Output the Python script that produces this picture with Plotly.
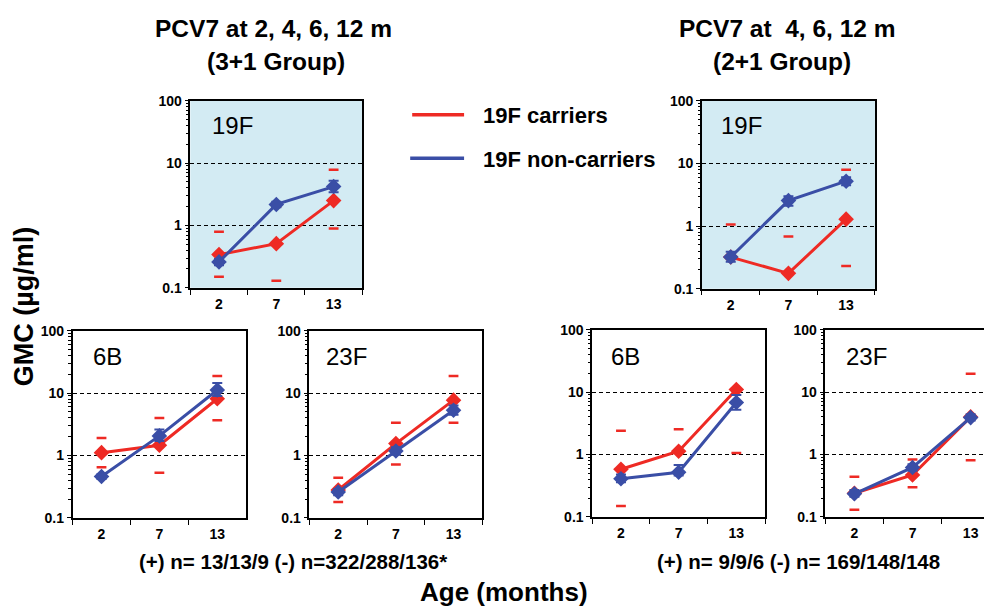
import math
import plotly.graph_objects as go

W, H = 992, 616
OFF = 8  # the page body margin shifts the figure by 8px; compensate
FONT = "Liberation Sans, Arial, sans-serif"
RED = "#ee2a24"
BLUE = "#3a4ea6"
BG = "#d3ebf3"

ages = ["2", "7", "13"]

# --- 3+1 group, 19F ---
f19_31_car = [0.34, 0.51, 2.5]
f19_31_car_hi = [0.79, 2.0, 7.8]
f19_31_car_lo = [0.15, 0.13, 0.89]
f19_31_non = [0.26, 2.17, 4.2]
f19_31_non_hi = [0.29, 2.4, 5.2]
f19_31_non_lo = [0.23, 1.95, 3.4]

# --- 2+1 group, 19F ---
f19_21_car = [0.32, 0.176, 1.29]
f19_21_car_hi = [1.06, 0.68, 7.9]
f19_21_car_lo = [None, None, 0.23]
f19_21_non = [0.32, 2.55, 5.2]
f19_21_non_hi = [0.39, 3.0, 6.0]
f19_21_non_lo = [0.27, 2.1, 4.5]

# --- 3+1 group, 6B ---
b6_31_car = [1.11, 1.46, 8.1]
b6_31_car_hi = [1.9, 4.0, 18.8]
b6_31_car_lo = [0.65, 0.53, 3.65]
b6_31_non = [0.46, 2.06, 11.2]
b6_31_non_hi = [0.5, 2.6, 14.5]
b6_31_non_lo = [0.42, 1.7, 9.0]

# --- 3+1 group, 23F ---
f23_31_car = [0.28, 1.55, 7.7]
f23_31_car_hi = [0.44, 3.35, 18.8]
f23_31_car_lo = [0.18, 0.72, 3.35]
f23_31_non = [0.26, 1.18, 5.3]
f23_31_non_hi = [0.29, 1.35, 6.3]
f23_31_non_lo = [0.23, 1.03, 4.5]

# --- 2+1 group, 6B ---
b6_21_car = [0.58, 1.13, 11.0]
b6_21_car_hi = [2.4, 2.55, None]
b6_21_car_lo = [0.15, 0.5, 1.06]
b6_21_non = [0.41, 0.52, 6.8]
b6_21_non_hi = [0.48, 0.68, 9.0]
b6_21_non_lo = [0.36, 0.46, 5.2]

# --- 2+1 group, 23F ---
f23_21_car = [0.24, 0.47, 4.0]
f23_21_car_hi = [0.44, 0.83, 19.7]
f23_21_car_lo = [0.13, 0.30, 0.81]
f23_21_non = [0.235, 0.62, 3.9]
f23_21_non_hi = [0.27, 0.7, 4.4]
f23_21_non_lo = [0.21, 0.55, 3.5]

p_values = [("P<.001", 0, "7", 5.6), ("P<.001", 1, "7", 5.5), ("P=.005", 1, "13", 17)]


def fx(px):
    return (px - OFF) / W


def fy(py):
    return 1 - (py - OFF) / H


# panel layout in reference pixels: (left, right, top, bottom, label, label_x, label_y, blue_bg)
panels = [
    (190.7, 363.0, 95, 287, "19F", 210, 120, True,
     f19_31_car, f19_31_car_hi, f19_31_car_lo, f19_31_non, f19_31_non_hi, f19_31_non_lo),
    (703.3, 876.7, 95, 288, "19F", 720, 120, True,
     f19_21_car, f19_21_car_hi, f19_21_car_lo, f19_21_non, f19_21_non_hi, f19_21_non_lo),
    (72.7, 246.7, 331, 523.3, "6B", 91, 358, False,
     b6_31_car, b6_31_car_hi, b6_31_car_lo, b6_31_non, b6_31_non_hi, b6_31_non_lo),
    (310.0, 483.3, 331, 523.3, "23F", 325, 358, False,
     f23_31_car, f23_31_car_hi, f23_31_car_lo, f23_31_non, f23_31_non_hi, f23_31_non_lo),
    (593.3, 766.7, 330, 522.3, "6B", 610, 358, False,
     b6_21_car, b6_21_car_hi, b6_21_car_lo, b6_21_non, b6_21_non_hi, b6_21_non_lo),
    (827.0, 1001.7, 330, 522.3, "23F", 846, 358, False,
     f23_21_car, f23_21_car_hi, f23_21_car_lo, f23_21_non, f23_21_non_hi, f23_21_non_lo),
]

minor_vals = [m * 10 ** e for e in (-1, 0, 1) for m in range(2, 10)]

fig = go.Figure()
layout = dict(
    width=W, height=H, margin=dict(l=0, r=0, t=0, b=0),
    paper_bgcolor="white", plot_bgcolor="rgba(0,0,0,0)",
    font=dict(family=FONT, color="black"), showlegend=False,
)
shapes = []
annotations = []

for i, (l, r, t, b, lab, lx, ly, bg, car, car_hi, car_lo, non, non_hi, non_lo) in enumerate(panels, start=1):
    sfx = "" if i == 1 else str(i)
    xa, ya = "x" + sfx, "y" + sfx
    x0, x1 = fx(l), fx(r)
    xr = 2.5
    if x1 > 1:
        xr = -0.5 + 3 * (1 - x0) / (x1 - x0)
        x1 = 1
    layout["xaxis" + sfx] = dict(
        domain=[x0, x1], anchor=ya, type="category",
        categoryorder="array", categoryarray=ages, range=[-0.5, xr],
        tickson="boundaries", ticks="outside", ticklen=5, tickwidth=1.2, tickcolor="black",
        showline=True, linecolor="black", linewidth=1.5, mirror=True,
        showgrid=False, zeroline=False, fixedrange=True,
        tickfont=dict(size=14, family=FONT, color="black", weight="bold"),
        ticklabelstandoff=3,
    )
    layout["yaxis" + sfx] = dict(
        domain=[fy(b), fy(t)], anchor=xa, type="log", range=[-1, 2],
        tickvals=[0.1, 1, 10, 100], ticktext=["0.1", "1", "10", "100"],
        ticks="outside", ticklen=4, tickwidth=1.2, tickcolor="black",
        minor=dict(tickvals=minor_vals, ticks="outside", ticklen=2.5, tickcolor="black", showgrid=False),
        showline=True, linecolor="black", linewidth=1.5, mirror=True,
        showgrid=True, gridcolor="black", gridwidth=1, griddash="4px,3px",
        zeroline=False, fixedrange=True,
        tickfont=dict(size=14, family=FONT, color="black", weight="bold"),
        ticklabelstandoff=0,
    )
    if bg:
        shapes.append(dict(type="rect", xref=xa + " domain", yref=ya + " domain",
                           x0=0, x1=1, y0=0, y1=1, fillcolor=BG, line_width=0, layer="below"))
    # carriers
    fig.add_trace(go.Scatter(
        x=ages, y=car, mode="lines+markers", name="19F carriers", xaxis=xa, yaxis=ya,
        line=dict(color=RED, width=3),
        marker=dict(symbol="diamond", size=12, color=RED),
    ))
    for ci in (car_hi, car_lo):
        fig.add_trace(go.Scatter(
            x=ages, y=ci, mode="markers", xaxis=xa, yaxis=ya, hoverinfo="skip",
            marker=dict(symbol="line-ew", size=7, color=RED, line=dict(color=RED, width=2.5)),
        ))
    # non-carriers
    fig.add_trace(go.Scatter(
        x=ages, y=non, mode="lines+markers", name="19F non-carriers", xaxis=xa, yaxis=ya,
        line=dict(color=BLUE, width=3),
        marker=dict(symbol="diamond", size=12, color=BLUE),
        error_y=dict(type="data", symmetric=False,
                     array=[h - m for h, m in zip(non_hi, non)],
                     arrayminus=[m - lo for m, lo in zip(non, non_lo)],
                     color=BLUE, thickness=2, width=5),
    ))
    annotations.append(dict(text=lab, xref="paper", yref="paper", x=fx(lx), y=fy(ly),
                            xanchor="left", yanchor="middle", showarrow=False,
                            font=dict(size=24, family=FONT, color="black")))

for txt, pi, xcat, yv in p_values:
    sfx = "" if pi == 0 else str(pi + 1)
    annotations.append(dict(text=txt, xref="x" + sfx, yref="y" + sfx, x=xcat, y=math.log10(yv),
                            showarrow=False, xanchor="center", yanchor="middle",
                            font=dict(size=17, family=FONT, color="black", style="italic")))


def ann(text, px, py, size, bold=True, angle=0, anchor="center"):
    annotations.append(dict(text=text, xref="paper", yref="paper", x=fx(px), y=fy(py),
                            xanchor=anchor, yanchor="middle", showarrow=False, textangle=angle,
                            font=dict(size=size, family=FONT, color="black",
                                      weight="bold" if bold else "normal")))


ann("PCV7 at 2, 4, 6, 12 m", 274, 21, 24.5)
ann("(3+1 Group)", 277, 55, 24.5)
ann("PCV7 at&nbsp; 4, 6, 12 m", 789, 21, 24.5)
ann("(2+1 Group)", 784, 55, 24.5)
ann("GMC (µg/ml)", 24, 306, 27, angle=-90)
ann("Age (months)", 505, 599, 26)
ann("(+) n= 13/13/9 (-) n=322/288/136*", 294, 568, 20.5)
ann("(+) n= 9/9/6 (-) n= 169/148/148", 800, 568, 20.5)

# legend
ann("19F carriers", 482, 110, 22, anchor="left")
ann("19F non-carriers", 482, 155, 22, anchor="left")
shapes.append(dict(type="line", xref="paper", yref="paper", x0=fx(413), x1=fx(465),
                   y0=fy(109.5), y1=fy(109.5), line=dict(color=RED, width=3.5)))
shapes.append(dict(type="line", xref="paper", yref="paper", x0=fx(411), x1=fx(465),
                   y0=fy(154), y1=fy(154), line=dict(color=BLUE, width=3.5)))

layout["shapes"] = shapes
layout["annotations"] = annotations
fig.update_layout(**layout)
fig.write_html("out.html")
